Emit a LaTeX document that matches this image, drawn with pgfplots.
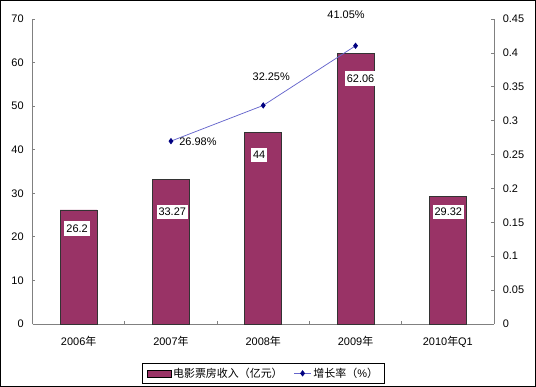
\documentclass[border=0pt]{standalone}
\usepackage{pgfplots}
\pgfplotsset{compat=1.18}
\usepackage{pgfplotstable}
\usepackage{fontspec}
\setmainfont{Liberation Sans}
\newfontfamily\cjk{Noto Sans CJK SC}
\definecolor{plum}{RGB}{153,51,102}
\definecolor{linec}{RGB}{102,102,204}
\definecolor{navyc}{RGB}{0,0,128}
\definecolor{axgray}{RGB}{128,128,128}
\pgfplotstableread{
x y dx dy lab
0 26.2 -1.5 -19 26.2
1 33.27 1.3 -33 33.27
2 44 -4 -22.7 44
3 62.06 5 -25 62.06
4 29.32 0.5 -15.8 29.32
}\bardata
\pgfplotstableread{
x y dx dy lab
1 0.2698 27 -1 26.98
2 0.3225 8 29 32.25
3 0.4105 -9.5 31 41.05
}\growth
\begin{document}
\fontsize{11}{13}\selectfont
\begin{tikzpicture}
\pgfplotsset{
  common/.style={
    scale only axis, width=461.5bp, height=305bp,
    xmin=-0.5, xmax=4.5,
    tick align=inside, major tick length=3bp,
    tick label style={font=\fontsize{11}{13}\selectfont, black},
    /pgf/number format/assume math mode=true,
    axis line style={draw=axgray, line width=0.75bp, -},
    ytick style={draw=axgray, line width=0.75bp},
  }
}
\begin{axis}[common, name=ax,
  ymin=0, ymax=70, ytick={0,10,...,70},
  axis x line*=bottom, axis y line*=left,
  xtick={0,1,2,3,4},
  xticklabels={2006{\cjk 年},2007{\cjk 年},2008{\cjk 年},2009{\cjk 年},2010{\cjk 年}Q1},
  xtick style={draw=none},
  minor xtick={0.5,1.5,2.5,3.5},
  minor tick length=3bp,
  minor x tick style={draw=axgray, line width=0.75bp},
  yticklabel style={xshift=-5bp},
  xticklabel style={yshift=-8bp},
  clip=false,
]
\addplot[ybar, bar width=0.4, fill=plum, draw=black!80, line width=0.6bp,
  point meta=explicit symbolic,
  visualization depends on={\thisrow{dx} \as \dx},
  visualization depends on={\thisrow{dy} \as \dy},
  nodes near coords,
  every node near coord/.append style={anchor=center, fill=white, text=black,
     inner xsep=2bp, inner ysep=3.5bp, xshift=\dx bp, yshift=\dy bp,
     font=\fontsize{11}{13}\selectfont},
] table[x=x, y=y, meta=lab] {\bardata};
\end{axis}
\begin{axis}[common,
  ymin=0, ymax=0.45, ytick={0,0.05,0.1,0.15,0.2,0.25,0.3,0.35,0.4,0.45},
  axis y line*=right, axis x line=none,
  yticklabel style={xshift=5bp, /pgf/number format/.cd, fixed, precision=2},
  clip=false,
  legend style={at={(0.5,-0.128)}, anchor=north, draw=black, line width=0.6bp,
     font=\fontsize{11}{13}\selectfont, inner xsep=4bp, inner ysep=2.5bp,
     /tikz/every even column/.append style={column sep=9bp}},
  legend columns=2,
]
\addlegendimage{legend image code/.code={\draw[fill=plum, draw=black, line width=0.6bp] (0bp,-3.5bp) rectangle (24bp,3.5bp);}}
\addlegendentry{{\cjk 电影票房收入（亿元）}}
\addplot[color=linec, line width=0.75bp, mark=diamond*, mark size=2.6bp,
  mark options={draw=navyc, fill=navyc},
  point meta=explicit symbolic,
  visualization depends on={\thisrow{dx} \as \dx},
  visualization depends on={\thisrow{dy} \as \dy},
  nodes near coords={\pgfplotspointmeta\%},
  every node near coord/.append style={anchor=center, text=black,
     xshift=\dx bp, yshift=\dy bp, font=\fontsize{11}{13}\selectfont},
] table[x=x, y=y, meta=lab] {\growth};
\addlegendentry{{\cjk 增长率（}\%{\cjk ）}}
\end{axis}
\draw[black, line width=1bp] ([shift={(-32bp,-62.5bp)}]ax.south west) rectangle ([shift={(41.5bp,18.5bp)}]ax.north east);
\end{tikzpicture}
\end{document}
